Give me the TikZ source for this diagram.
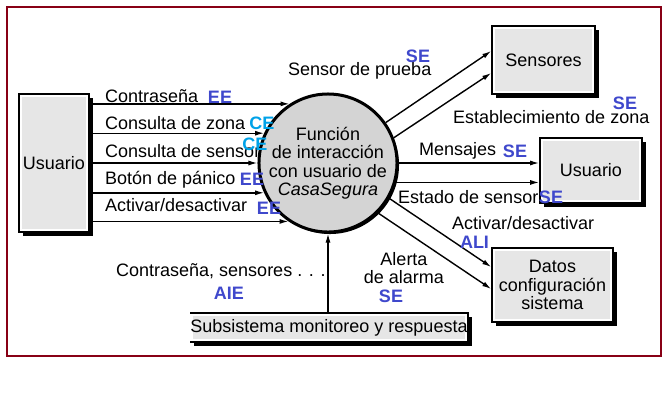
\documentclass[tikz,border=0pt]{standalone}
\usepackage{fontspec}
\setmainfont{Liberation Sans}
\usepackage{xcolor}
\usetikzlibrary{arrows.meta,positioning,shadows}

\definecolor{framered}{RGB}{136,0,21}
\definecolor{tagblue}{RGB}{63,72,204}
\definecolor{tagcyan}{RGB}{0,162,232}
\definecolor{boxgray}{RGB}{230,230,230}
\definecolor{circgray}{RGB}{212,212,212}

\begin{document}
\begin{tikzpicture}[
  x=1pt, y=-1pt,
  font=\fontsize{18}{18.5}\selectfont,
  >={Latex[length=9pt,width=5pt]},
  flow/.style={->, line width=1.4pt},
  inner gray/.style={path picture={\fill[boxgray]
    ([shift={(3pt,-3pt)}]path picture bounding box.north west) rectangle
    ([shift={(-3pt,3pt)}]path picture bounding box.south east);}},
  ent/.style={draw, line width=1.6pt, fill=white, inner sep=0pt, align=center, inner gray,
    general shadow={fill=black, shadow xshift=4pt, shadow yshift=-4pt}},
  store/.style={fill=white, inner sep=0pt, inner gray,
    general shadow={fill=black, shadow xshift=4pt, shadow yshift=-4pt}},
  proc/.style={circle, draw, line width=3pt, fill=circgray, minimum size=129pt,
    inner sep=0pt, align=center,
    general shadow={fill=black, shadow xshift=2pt, shadow yshift=-2pt}},
  lbl/.style={inner sep=0pt, anchor=base west},
  tag/.style={inner sep=0pt, anchor=base, text=tagblue,
    font=\fontsize{18}{18}\selectfont\bfseries}]
  \useasboundingbox (0,0) rectangle (665,408);
  \draw[framered, line width=1.5pt] (7,7) rectangle (661,356);

  \node[ent, minimum width=70pt, minimum height=138pt] (usr) at (54,163) {Usuario};
  \node[proc] (fun) at (328,163) {Función\\de interacción\\con usuario de\\\textit{CasaSegura}};
  \node[ent, minimum width=103pt, minimum height=68pt] (sens) at (543.5,60) {Sensores};
  \node[ent, minimum width=102pt, minimum height=65pt] (usr2) at (591,170.5) {Usuario};
  \node[ent, minimum width=121pt, minimum height=74pt] (datos) at (552.5,285) {Datos\\configuración\\sistema};
  \node[store, minimum width=276pt, minimum height=29pt] (subs) at (329,327.5) {Subsistema monitoreo y respuesta};
  \draw[line width=1.6pt] (subs.north west) -- (subs.north east) -- (subs.south east) -- (subs.south west);

  \draw[flow] (usr.east |- fun.123.6) -- (fun.123.6);
  \draw[flow] (usr.east |- fun.155.9) -- (fun.155.9);
  \draw[flow] (usr.east |- fun.west) -- (fun.west);
  \draw[flow] (usr.east |- fun.205.1) -- (fun.205.1);
  \draw[flow] (usr.east |- fun.236.4) -- (fun.236.4);
  \draw[flow] (fun.35.4) -- ([yshift=9pt]sens.west);
  \draw[flow] (fun.21.2) -- ([yshift=-13pt]sens.west);
  \draw[flow] (fun.east) -- (usr2.west |- fun.east);
  \draw[flow] (fun.-16.7) -- (usr2.west |- fun.-16.7);
  \draw[flow] (fun.-30) -- ([yshift=18pt]datos.west);
  \draw[flow] (fun.-45) -- ([yshift=-4pt]datos.west);
  \draw[flow] (subs.north -| fun.south) -- (fun.south);

  \node[lbl] (lcontr) at (105,102) {Contraseña};
  \node[lbl] (lzona) at (105,129) {Consulta de zona};
  \node[lbl] (lsensor) at (105,157) {Consulta de sensor};
  \node[lbl] (lpanico) at (105,184) {Botón de pánico};
  \node[lbl] (lactiv) at (105,211) {Activar/desactivar};
  \node[lbl] (lprueba) at (288,75) {Sensor de prueba};
  \node[lbl] (lestab) at (453,123) {Establecimiento de zona};
  \node[lbl] (lmens) at (419,155) {Mensajes};
  \node[lbl] (lestado) at (398,203) {Estado de sensor};
  \node[lbl] (lactiv2) at (452,229) {Activar/desactivar};
  \node[inner sep=0pt, align=center] (lalerta) at (404,268) {Alerta\\de alarma};
  \node[lbl] (lcontr2) at (116,276) {Contraseña, sensores . . .};

  \node[tag] (t1) at (220,103) {EE};
  \node[tag, text=tagcyan] (t2) at (262,129) {CE};
  \node[tag, text=tagcyan] (t3) at (255,150) {CE};
  \node[tag] (t4) at (252,185) {EE};
  \node[tag] (t5) at (269,214) {EE};
  \node[tag] (t6) at (418,62) {SE};
  \node[tag] (t7) at (625,109) {SE};
  \node[tag] (t8) at (515,157) {SE};
  \node[tag] (t9) at (551,203) {SE};
  \node[tag] (t10) at (474.5,248) {ALI};
  \node[tag] (t11) at (391,302) {SE};
  \node[tag] (t12) at (229,299) {AIE};
\end{tikzpicture}
\end{document}
